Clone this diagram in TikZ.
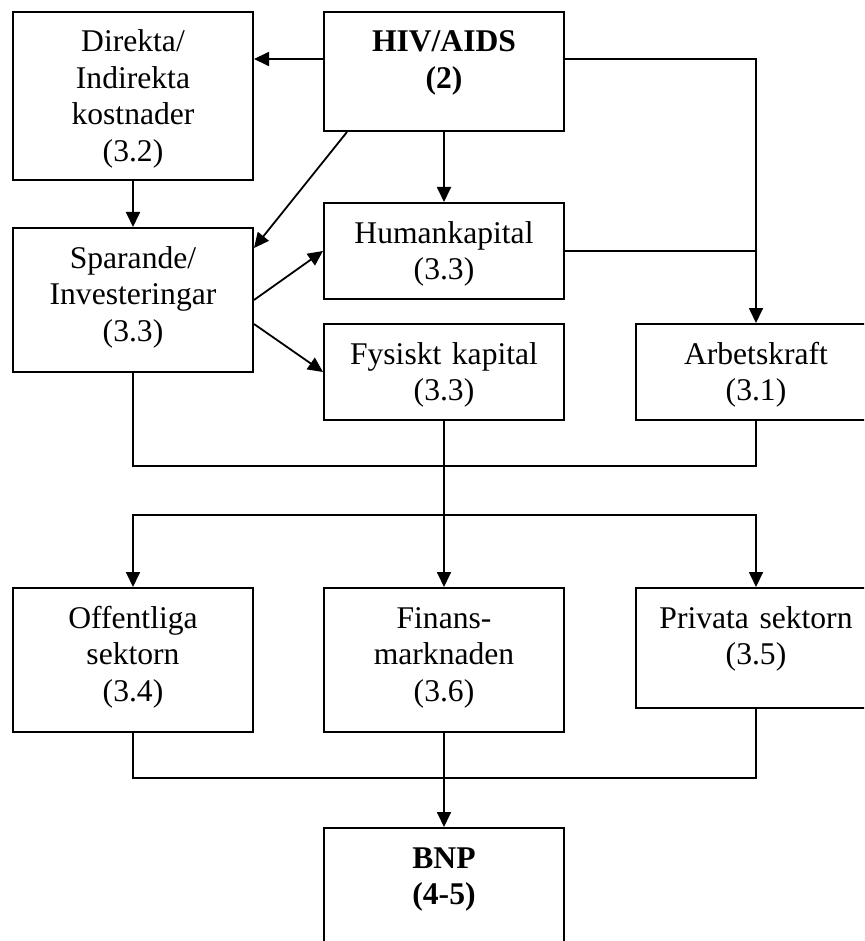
\documentclass[tikz,border=0pt]{standalone}
\usepackage{fontspec}
\setmainfont{Liberation Serif}
\usetikzlibrary{arrows.meta}

\begin{document}
\begin{tikzpicture}[x=0.5pt, y=-0.5pt, line width=0.9pt, line join=miter, >={Triangle[length=7.5pt,width=7pt]},
	box/.style={draw, line width=1pt, anchor=north west, text width=120pt, align=center, inner sep=0pt, text height=20pt, font=\fontsize{15.8}{18.25}\selectfont}]
	\useasboundingbox (0,0) rectangle (864,941);
	\clip (0,0) rectangle (864,941);
	% boxes, top aligned text
	\node[box, text depth=64pt] (dir) at (12,11) {Direkta/\\Indirekta\\kostnader\\(3.2)};
	\node[box, text depth=39.5pt] (hiv) at (323,11) {\textbf{HIV/AIDS}\\\textbf{(2)}};
	\node[box, text depth=28pt] (hum) at (323,202) {Humankapital\\(3.3)};
	\node[box, text depth=52pt] (spar) at (12,227) {Sparande/\\Investeringar\\(3.3)};
	\node[box, text depth=28pt] (fys) at (323,323) {Fysiskt kapital\\(3.3)};
	\node[box, text depth=28pt] (arb) at (635,323) {Arbetskraft\\(3.1)};
	\node[box, text depth=52pt] (off) at (12,587) {Offentliga\\sektorn\\(3.4)};
	\node[box, text depth=52pt] (fin) at (323,587) {Finans-\\marknaden\\(3.6)};
	\node[box, text depth=40pt] (priv) at (635,587) {Privata sektorn\\(3.5)};
	\node[box, text depth=60pt] (bnp) at (323,827) {\textbf{BNP}\\\textbf{(4-5)}};
	% rows of the bus lines
	\coordinate (row1) at (0,59);
	\coordinate (bus1) at (444,466);
	\coordinate (bus2) at (444,515);
	\coordinate (bus3) at (444,778);
	% connectors
	\draw[->] (hiv.west |- row1) -- (dir.east |- row1);
	\draw[->] (hiv.east |- row1) -| (arb.north);
	\draw (hum.east) -- (hum.east -| arb.north);
	\draw[->] (hiv.south) -- (hum.north);
	\draw[->] (dir.south) -- (spar.north);
	\draw[->] ([xshift=12pt]hiv.south west) -- ([yshift=-10.5pt]spar.north east);
	\draw[->] (spar.east) -- (hum.west);
	\draw[->] ([yshift=-12pt]spar.east) -- (fys.west);
	\draw (spar.south) |- (bus1) -| (arb.south);
	\draw[->] (fys.south) -- (fin.north);
	\draw[->] (fin.north |- bus2) -| (off.north);
	\draw[->] (fin.north |- bus2) -| (priv.north);
	\draw (off.south) |- (bus3) -| (priv.south);
	\draw[->] (fin.south) -- (bnp.north);
\end{tikzpicture}
\end{document}
